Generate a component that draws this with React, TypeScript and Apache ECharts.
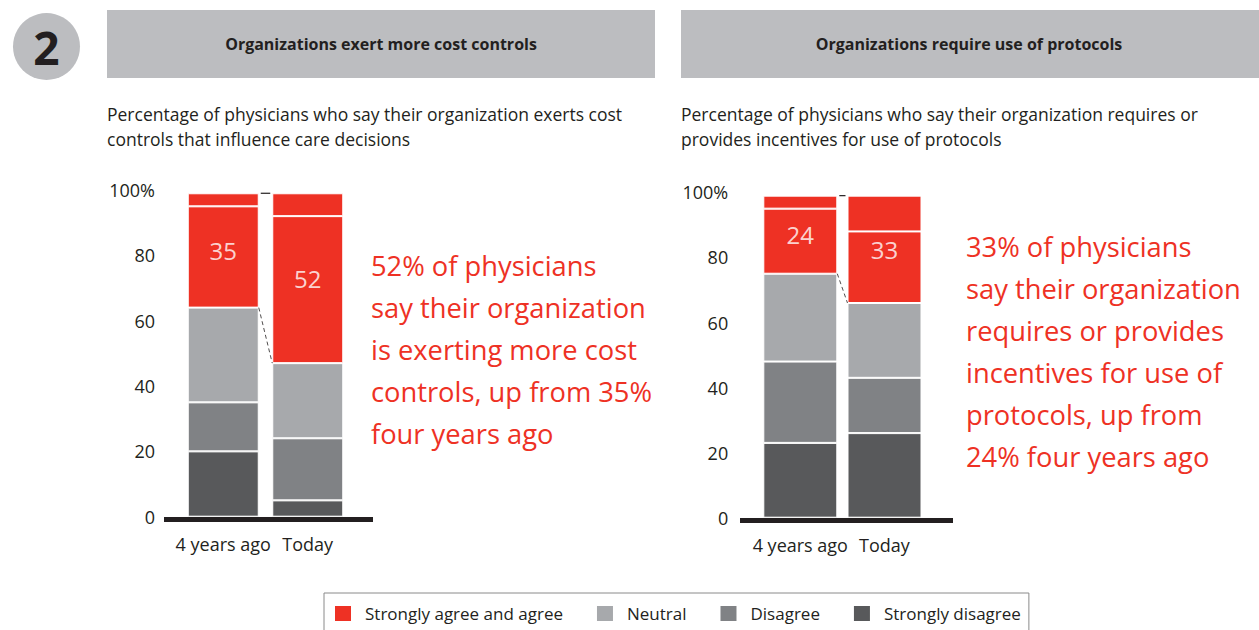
import React, { useEffect, useRef } from "react";
import * as echarts from "echarts";

const categories = ["4 years ago", "Today"];
const legendNames = ["Strongly agree and agree", "Neutral", "Disagree", "Strongly disagree"];
const yTicks = [0, 20, 40, 60, 80, 100];

// Panel 1: cost controls
const costStronglyDisagree = [20, 5];
const costDisagree = [15, 19];
const costNeutral = [29, 23];
const costAgree = [31, 45];
const costStronglyAgree = [4, 7];

// Panel 2: protocols
const protoStronglyDisagree = [23, 26];
const protoDisagree = [25, 17];
const protoNeutral = [27, 23];
const protoAgree = [20, 22];
const protoStronglyAgree = [4, 11];

const titles = ["Organizations exert more cost controls", "Organizations require use of protocols"];
const subtitles = [
  "Percentage of physicians who say their organization exerts cost\ncontrols that influence care decisions",
  "Percentage of physicians who say their organization requires or\nprovides incentives for use of protocols",
];
const notes = [
  "52% of physicians\nsay their organization\nis exerting more cost\ncontrols, up from 35%\nfour years ago",
  "33% of physicians\nsay their organization\nrequires or provides\nincentives for use of\nprotocols, up from\n24% four years ago",
];

const RED = "#EE3124";
const NEUTRAL = "#A7A9AC";
const DISAGREE = "#808285";
const SDIS = "#58595B";
const INK = "#231F20";
const HEADER = "#BCBDC0";
const FONT = "'Open Sans', 'DejaVu Sans', sans-serif";

function panelSeries(g: number, bw: number, sd: number[], d: number[], n: number[], a: number[], sa: number[]) {
  const defs = [
    { name: "Strongly disagree", data: sd, color: SDIS },
    { name: "Disagree", data: d, color: DISAGREE },
    { name: "Neutral", data: n, color: NEUTRAL },
    { name: "Strongly agree and agree", data: a, color: RED },
    { name: "Strongly agree and agree", data: sa, color: RED },
  ];
  const bars = defs.map((s) => ({
    type: "bar",
    name: s.name,
    stack: "p" + g,
    xAxisIndex: g,
    yAxisIndex: g,
    barWidth: bw,
    data: s.data,
    itemStyle: { color: s.color, borderColor: "#ffffff", borderWidth: 1 },
  }));
  const base = categories.map((_, i) => sd[i] + d[i] + n[i]);
  const red = categories.map((_, i) => a[i] + sa[i]);
  const total = categories.map((_, i) => base[i] + red[i]);
  const label = {
    type: "scatter",
    name: "redLabel" + g,
    xAxisIndex: g,
    yAxisIndex: g,
    symbolSize: 0,
    silent: true,
    z: 10,
    data: categories.map((_, i) => [i, base[i] + red[i] / 2]),
    label: {
      show: true,
      position: "inside",
      formatter: (p: any) => String(red[p.dataIndex]),
      color: "#ffffff",
      fontSize: 24,
      fontFamily: FONT,
    },
  };
  const connector = {
    type: "custom",
    name: "connector" + g,
    xAxisIndex: g,
    yAxisIndex: g,
    silent: true,
    clip: false,
    z: 10,
    encode: { x: 0, y: 1 },
    data: [
      [0, base[0], base[1], 1],
      [0, total[0], total[1], 0],
    ],
    renderItem: (params: any, api: any) => {
      const p0 = api.coord([0, api.value(1)]);
      const p1 = api.coord([1, api.value(2)]);
      const dashed = api.value(3) === 1;
      const inset = dashed ? 0 : 2;
      return {
        type: "line",
        shape: { x1: p0[0] + bw / 2 + inset, y1: p0[1], x2: p1[0] - bw / 2 - inset, y2: p1[1] },
        style: { stroke: INK, lineWidth: dashed ? 0.8 : 1.2, lineDash: dashed ? [4, 3] : undefined },
      };
    },
  };
  return [...bars, label, connector];
}

export default function App() {
  const ref = useRef<HTMLDivElement>(null);
  useEffect(() => {
    if (!ref.current) return;
    const chart = echarts.init(ref.current, null, { renderer: "svg" });
    const yAxisCommon = (margin: number) => ({
      type: "value",
      min: 0,
      max: 100,
      interval: 20,
      axisLine: { show: false },
      axisTick: { show: false },
      splitLine: { show: false },
      axisLabel: {
        margin,
        fontSize: 18,
        color: INK,
        fontFamily: FONT,
        formatter: (v: number) => (yTicks.includes(v) ? (v === 100 ? "100%" : String(v)) : ""),
      },
    });
    const xAxisCommon = {
      type: "category",
      data: categories,
      axisLine: { show: false },
      axisTick: { show: false },
      axisLabel: { margin: 18, fontSize: 18, color: INK, fontFamily: FONT, interval: 0 },
    };
    const baseAxis = {
      type: "category",
      data: [""],
      axisLine: { show: true, onZero: false, lineStyle: { color: INK, width: 5, cap: "butt" } },
      axisTick: { show: false },
      axisLabel: { show: false },
    };
    const graphic: any[] = [
      { type: "circle", shape: { cx: 46.5, cy: 46.5, r: 33.5 }, style: { fill: HEADER } },
      {
        type: "text",
        x: 46.5,
        y: 47,
        style: { text: "2", fontSize: 46, fontWeight: "bold", fill: INK, align: "center", verticalAlign: "middle", fontFamily: FONT },
      },
      { type: "rect", shape: { x: 107, y: 10, width: 548, height: 68 }, style: { fill: HEADER } },
      { type: "rect", shape: { x: 681, y: 10, width: 578, height: 68 }, style: { fill: HEADER } },
      {
        type: "text",
        x: 381,
        y: 44,
        style: { text: titles[0], fontSize: 16, fontWeight: "bold", fill: INK, align: "center", verticalAlign: "middle", fontFamily: FONT },
      },
      {
        type: "text",
        x: 969,
        y: 44,
        style: { text: titles[1], fontSize: 16, fontWeight: "bold", fill: INK, align: "center", verticalAlign: "middle", fontFamily: FONT },
      },
      {
        type: "text",
        x: 107,
        y: 101.5,
        style: { text: subtitles[0], fontSize: 17.5, lineHeight: 25, fill: INK, align: "left", verticalAlign: "top", fontFamily: FONT },
      },
      {
        type: "text",
        x: 681,
        y: 101.5,
        style: { text: subtitles[1], fontSize: 17.5, lineHeight: 25, fill: INK, align: "left", verticalAlign: "top", fontFamily: FONT },
      },
      {
        type: "text",
        x: 371,
        y: 244,
        style: { text: notes[0], fontSize: 27.3, lineHeight: 42, fill: RED, align: "left", verticalAlign: "top", fontFamily: FONT },
      },
      {
        type: "text",
        x: 966,
        y: 225,
        style: { text: notes[1], fontSize: 27.3, lineHeight: 42, fill: RED, align: "left", verticalAlign: "top", fontFamily: FONT },
      },
    ];
    chart.setOption({
      animation: false,
      backgroundColor: "#ffffff",
      textStyle: { fontFamily: FONT },
      legend: {
        data: legendNames,
        left: 324,
        top: 593,
        itemWidth: 18,
        itemHeight: 17,
        itemGap: 32,
        padding: [11, 8, 20, 9],
        borderColor: "#8a8a8a",
        borderWidth: 1,
        selectedMode: false,
        icon: "rect",
        textStyle: { fontSize: 17, color: INK, fontFamily: FONT, padding: [0, 0, 0, 8] },
      },
      grid: [
        { left: 181, width: 169, top: 190, height: 326.7 },
        { left: 758.2, width: 168.4, top: 192.4, height: 325.3 },
        { left: 164, width: 209, top: 100, height: 419.5 },
        { left: 740, width: 213, top: 100, height: 420 },
      ],
      xAxis: [
        { ...xAxisCommon, gridIndex: 0 },
        { ...xAxisCommon, gridIndex: 1 },
        { ...baseAxis, gridIndex: 2 },
        { ...baseAxis, gridIndex: 3 },
      ],
      yAxis: [
        { ...yAxisCommon(26), gridIndex: 0 },
        { ...yAxisCommon(30), gridIndex: 1 },
        { type: "value", gridIndex: 2, show: false, min: 0, max: 1 },
        { type: "value", gridIndex: 3, show: false, min: 0, max: 1 },
      ],
      series: [
        ...panelSeries(0, 71, costStronglyDisagree, costDisagree, costNeutral, costAgree, costStronglyAgree),
        ...panelSeries(1, 74, protoStronglyDisagree, protoDisagree, protoNeutral, protoAgree, protoStronglyAgree),
      ],
      graphic,
    });
    return () => chart.dispose();
  }, []);
  return <div ref={ref} style={{ position: "absolute", left: 0, top: 0, width: 1259, height: 630 }} />;
}
